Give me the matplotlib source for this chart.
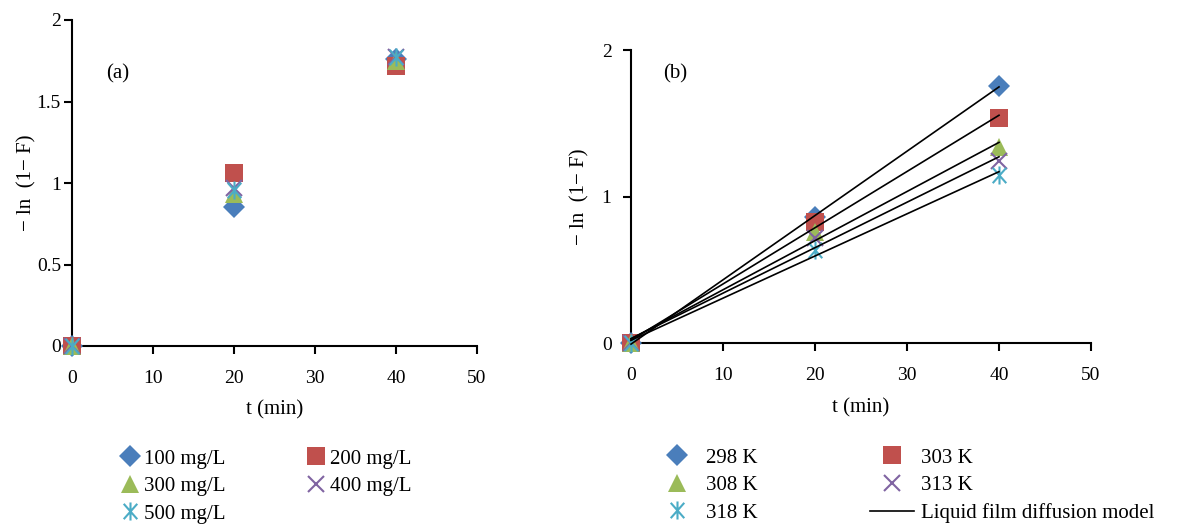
import numpy as np
import matplotlib
matplotlib.use("Agg")
import matplotlib.pyplot as plt
from matplotlib.lines import Line2D
from matplotlib.path import Path

plt.rcParams['font.family'] = ['Liberation Serif', 'DejaVu Serif']

# ---- data ----
t = [0, 20, 40]

conc_labels = ["100 mg/L", "200 mg/L", "300 mg/L", "400 mg/L", "500 mg/L"]
conc_100 = [0, 0.853, 1.76]
conc_200 = [0, 1.06, 1.72]
conc_300 = [0, 0.93, 1.75]
conc_400 = [0, 0.97, 1.775]
conc_500 = [0, 0.96, 1.77]

temp_labels = ["298 K", "303 K", "308 K", "313 K", "318 K"]
temp_298 = [0, 0.86, 1.754]
temp_303 = [0, 0.83, 1.534]
temp_308 = [0, 0.76, 1.34]
temp_313 = [0, 0.716, 1.24]
temp_318 = [0, 0.636, 1.15]

x_ticks = [0, 10, 20, 30, 40, 50]
ya_ticks = [0, 0.5, 1, 1.5, 2]
ya_ticklabels = ["0", "0.5", "1", "1.5", "2"]
yb_ticks = [0, 1, 2]

# asterisk marker: X plus a vertical bar
ast = Path([(-0.75, -0.85), (0.75, 0.85), (-0.75, 0.85), (0.75, -0.85), (0, -1), (0, 1)],
           [Path.MOVETO, Path.LINETO, Path.MOVETO, Path.LINETO, Path.MOVETO, Path.LINETO])

colors = ["#4A7EBB", "#C0504D", "#9BBB59", "#8064A2", "#4BACC6"]
markers = ["D", "s", "^", "x", ast]
msizes = [11, 12.5, 12.5, 12, 13]
line_markers = [False, False, False, True, True]

FS_TICK = 14
FS = 15

fig = plt.figure(figsize=(11.85, 5.27), dpi=100)
axa = fig.add_axes([72/1185, 1-346/527, 405/1185, 326/527])
axb = fig.add_axes([631/1185, 1-343.3/527, 460/1185, 293.3/527])


def style(ax, ypad, ylabpad):
    for s in ['top', 'right']:
        ax.spines[s].set_visible(False)
    for s in ['left', 'bottom']:
        ax.spines[s].set_linewidth(1.5)
        ax.spines[s].set_color('black')
    ax.tick_params(direction='out', length=6, width=1.5, labelsize=FS_TICK)
    ax.tick_params(axis='x', pad=11)
    ax.tick_params(axis='y', pad=ypad)
    ax.set_xlim(0, 50)
    ax.set_xticks(x_ticks)
    ax.set_xlabel("t (min)", fontsize=FS, labelpad=10)
    ax.set_ylabel("− ln  (1− F)", fontsize=FS, labelpad=ylabpad)


def draw(ax, series, labels):
    hs = []
    for y, c, m, ms, lm, lab in zip(series, colors, markers, msizes, line_markers, labels):
        h, = ax.plot(t, y, linestyle='none', marker=m, markersize=ms, color=c,
                     markeredgewidth=1.5 if lm else 0, label=lab, clip_on=False, zorder=3)
        hs.append(h)
    return hs


# ---- panel (a) ----
series_a = [conc_100, conc_200, conc_300, conc_400, conc_500]
handles_a = draw(axa, series_a, conc_labels)
axa.set_ylim(0, 2)
axa.set_yticks(ya_ticks)
axa.set_yticklabels(ya_ticklabels)
style(axa, 2, 0)
axa.text(5.6, 1.67, "(a)", fontsize=FS, ha='center', va='center')

# ---- panel (b) ----
series_b = [temp_298, temp_303, temp_308, temp_313, temp_318]
handles_b = draw(axb, series_b, temp_labels)
for y in series_b:
    k, b0 = np.polyfit(t, y, 1)
    tt = np.array([t[0], t[-1]])
    axb.plot(tt, k * tt + b0, color='black', lw=1.2, zorder=4, clip_on=False)
axb.set_ylim(0, 2)
axb.set_yticks(yb_ticks)
style(axb, 8, 9)
axb.text(4.8, 1.84, "(b)", fontsize=FS, ha='center', va='center')

fit_handle = Line2D([], [], color='black', lw=1.2)

# ---- legends ----
order_a = [handles_a[0], handles_a[2], handles_a[4], handles_a[1], handles_a[3]]
fig.legend(handles=order_a, labels=[h.get_label() for h in order_a],
           ncol=2, loc='upper left', bbox_to_anchor=(121/1185, 1-449/527),
           frameon=False, fontsize=FS, handlelength=0.9, handletextpad=0.2,
           columnspacing=3.9, labelspacing=0.38, borderaxespad=0, borderpad=0)

order_b = [handles_b[0], handles_b[2], handles_b[4], handles_b[1], handles_b[3], fit_handle]
labels_b = [temp_labels[0], temp_labels[2], temp_labels[4], temp_labels[1], temp_labels[3],
            "Liquid film diffusion model"]
fig.legend(handles=order_b, labels=labels_b,
           ncol=2, loc='upper left', bbox_to_anchor=(655/1185, 1-448/527),
           frameon=False, fontsize=FS, handlelength=2.1, handletextpad=0.35,
           columnspacing=5.4, labelspacing=0.38, borderaxespad=0, borderpad=0)

fig.savefig("out.png", dpi=100)
